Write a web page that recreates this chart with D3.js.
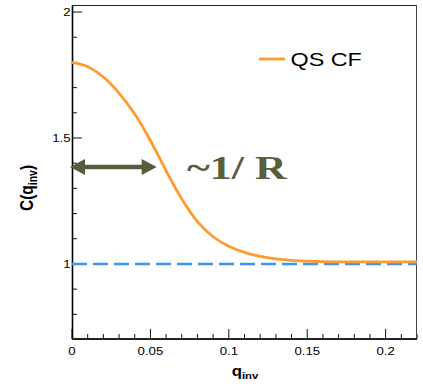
<!DOCTYPE html>
<html>
<head>
<meta charset="utf-8">
<script src="https://cdn.jsdelivr.net/npm/d3@7"></script>
<style>
  html, body { margin: 0; padding: 0; background: #fff; }
  svg { display: block; }
</style>
</head>
<body>
<div id="chart"></div>
<script>
// ---- data ----
const qValues = [0, 0.01, 0.02, 0.03, 0.04, 0.05, 0.06, 0.07, 0.08, 0.09, 0.10, 0.11, 0.12, 0.13, 0.14, 0.15, 0.16, 0.17, 0.18, 0.19, 0.20, 0.21, 0.22];
const cfValues = [1.800, 1.783, 1.742, 1.678, 1.595, 1.490, 1.370, 1.258, 1.168, 1.108, 1.070, 1.046, 1.030, 1.020, 1.014, 1.011, 1.009, 1.008, 1.008, 1.008, 1.008, 1.008, 1.008];
const baselineLevel = [1.0];
const xMajorTicks = [0, 0.05, 0.1, 0.15, 0.2];
const xTickLabels = ["0", "0.05", "0.1", "0.15", "0.2"];
const yMajorTicks = [1, 1.5, 2];
const yTickLabels = ["1", "1.5", "2"];
const seriesNames = ["QS CF"];
const arrowSpan = [0, 0.054];   // q range of the ~1/R arrow
const arrowLevel = [1.385];     // C value where the arrow sits
const annotationText = ["~1/ R"];

// ---- layout ----
const W = 423, H = 386;
const margin = { left: 72, right: 6, top: 5, bottom: 47 };
const x = d3.scaleLinear().domain([0, 0.22]).range([margin.left, W - margin.right]);
const y = d3.scaleLinear().domain([0.702, 2.028]).range([H - margin.bottom, margin.top]);
const SX = 1.2; // horizontal stretch of glyphs in the reference

const svg = d3.select("#chart").append("svg").attr("width", W).attr("height", H);

const x0 = x.range()[0], x1 = x.range()[1], y0 = y.range()[0], y1 = y.range()[1];

function stretchedText(g, tx, ty, str, sx, rot) {
  const t = g.append("text")
    .attr("transform", `translate(${tx},${ty}) scale(${sx},1)` + (rot ? ` rotate(${rot})` : ""));
  if (str !== null) t.text(str);
  return t;
}

// ---- ticks (inward, ROOT style) ----
const xMinor = d3.range(0, 0.2201, 0.01).filter(v => !xMajorTicks.some(m => Math.abs(m - v) < 1e-6));
const yMinor = d3.range(0.8, 2.0001, 0.1).filter(v => !yMajorTicks.some(m => Math.abs(m - v) < 1e-6));

const ticks = svg.append("g").attr("stroke", "#111").attr("stroke-width", 1);
xMajorTicks.forEach(v => ticks.append("line").attr("x1", x(v)).attr("x2", x(v)).attr("y1", y0).attr("y2", y0 - 10));
xMinor.forEach(v => ticks.append("line").attr("x1", x(v)).attr("x2", x(v)).attr("y1", y0).attr("y2", y0 - 5));
yMajorTicks.forEach(v => ticks.append("line").attr("x1", x0).attr("x2", x0 + 10).attr("y1", y(v)).attr("y2", y(v)));
yMinor.forEach(v => ticks.append("line").attr("x1", x0).attr("x2", x0 + 5).attr("y1", y(v)).attr("y2", y(v)));

// ---- frame ----
svg.append("line").attr("x1", x0).attr("x2", x1).attr("y1", y1 + 0.5).attr("y2", y1 + 0.5).attr("stroke", "#222").attr("stroke-width", 1);
svg.append("line").attr("x1", x1 - 0.5).attr("x2", x1 - 0.5).attr("y1", y1).attr("y2", y0).attr("stroke", "#444").attr("stroke-width", 1);
svg.append("line").attr("x1", x0 + 0.5).attr("x2", x0 + 0.5).attr("y1", y1).attr("y2", y0).attr("stroke", "#000").attr("stroke-width", 1.6);
svg.append("line").attr("x1", x0).attr("x2", x1).attr("y1", y0).attr("y2", y0).attr("stroke", "#222").attr("stroke-width", 2.2);

// ---- tick labels ----
const lab = svg.append("g").attr("font-family", "'Liberation Sans', Arial, Helvetica, sans-serif").attr("font-size", 11).attr("fill", "#000");
xMajorTicks.forEach((v, i) => stretchedText(lab, x(v), 354.5, xTickLabels[i], SX).attr("text-anchor", "middle"));
yMajorTicks.forEach((v, i) => stretchedText(lab, 70.5, y(v) + 4, yTickLabels[i], SX).attr("text-anchor", "end"));

// ---- axis titles ----
const xt = stretchedText(svg, 245, 376, null, SX)
  .attr("text-anchor", "middle").attr("font-family", "'Liberation Sans', Arial, sans-serif")
  .attr("font-weight", "bold").attr("font-size", 14);
xt.append("tspan").text("q");
xt.append("tspan").attr("font-size", 9.5).attr("dy", 3).text("inv");

const yt = stretchedText(svg, 33, 188, null, SX, -90)
  .attr("text-anchor", "middle").attr("font-family", "'Liberation Sans', Arial, sans-serif")
  .attr("font-weight", "bold").attr("font-size", 15.5);
yt.append("tspan").text("C(q");
yt.append("tspan").attr("font-size", 10.5).attr("dy", 3).text("inv");
yt.append("tspan").attr("dy", -3).text(")");

// ---- baseline (dashed) ----
svg.append("line")
  .attr("x1", x(0)).attr("x2", x(0.22))
  .attr("y1", y(baselineLevel[0])).attr("y2", y(baselineLevel[0]))
  .attr("stroke", "#3d97f0").attr("stroke-width", 2.6)
  .attr("stroke-dasharray", "15,6");

// ---- curve ----
const pts = qValues.map((q, i) => [q, cfValues[i]]);
svg.append("path").datum(pts)
  .attr("fill", "none").attr("stroke", "#ff9a2e").attr("stroke-width", 2.8)
  .attr("d", d3.line().x(d => x(d[0])).y(d => y(d[1])).curve(d3.curveCatmullRom.alpha(0.5)));

// ---- legend ----
svg.append("line").attr("x1", 259).attr("x2", 285).attr("y1", 59).attr("y2", 59)
  .attr("stroke", "#ff9a2e").attr("stroke-width", 2.8);
stretchedText(svg, 290.5, 66, seriesNames[0], 1.23)
  .attr("font-family", "'Liberation Sans', Arial, sans-serif").attr("font-size", 19).attr("fill", "#000");

// ---- annotation arrow ----
const olive = "#575d3b";
const ay = y(arrowLevel[0]);
const ax0 = x(arrowSpan[0]) - 2, ax1 = x(arrowSpan[1]);
const headL = 15, headH = 8;
svg.append("line").attr("x1", ax0 + headL - 2).attr("x2", ax1 - headL + 2).attr("y1", ay).attr("y2", ay)
  .attr("stroke", olive).attr("stroke-width", 4.5);
svg.append("path").attr("fill", olive)
  .attr("d", `M${ax0},${ay} L${ax0 + headL},${ay - headH} L${ax0 + headL},${ay + headH} Z`);
svg.append("path").attr("fill", olive)
  .attr("d", `M${ax1},${ay} L${ax1 - headL},${ay - headH} L${ax1 - headL},${ay + headH} Z`);

stretchedText(svg, 187, 179.3, annotationText[0], 1.33)
  .attr("font-family", "'Liberation Serif', 'Times New Roman', serif").attr("font-weight", "bold")
  .attr("font-size", 33).attr("fill", "#595e3d");
</script>
</body>
</html>
